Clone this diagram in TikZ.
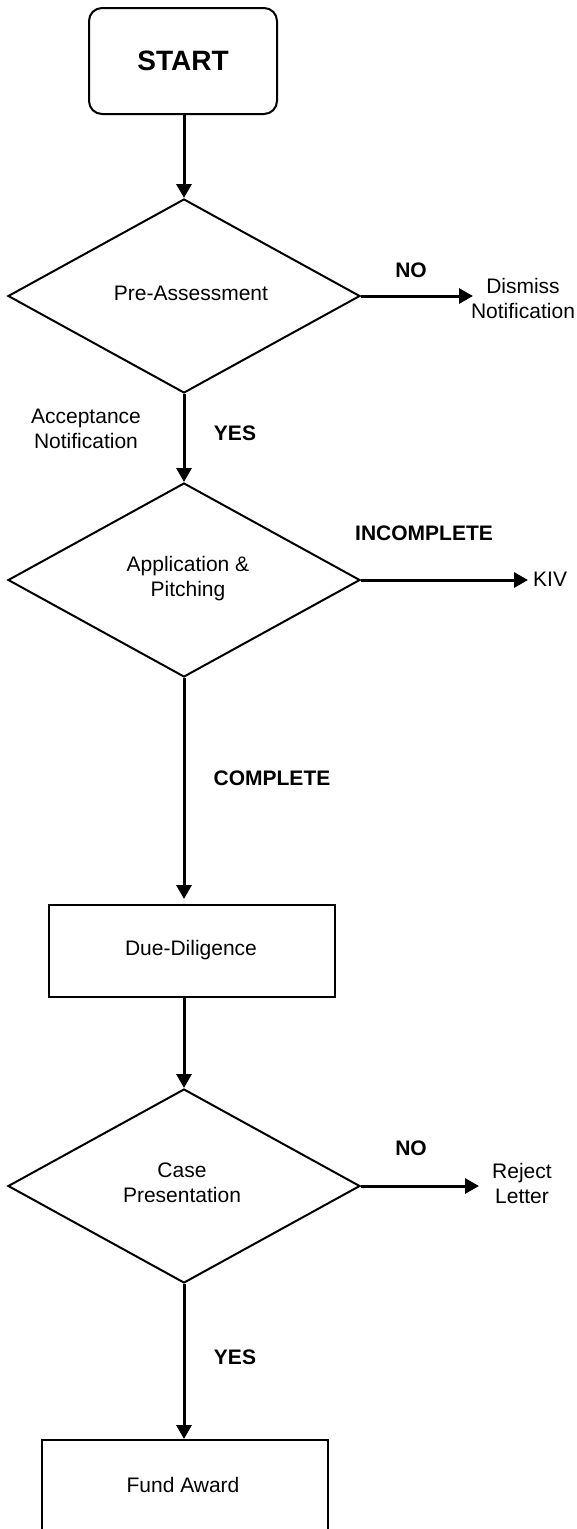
\documentclass[tikz,border=0pt]{standalone}
\usepackage{fontspec}
\setmainfont{Liberation Sans}
\usetikzlibrary{arrows.meta,shapes.geometric,calc}
\begin{document}
\begin{tikzpicture}[x=1pt,y=-1pt,
  shapeline/.style={draw=black,line width=2pt},
  flow/.style={line width=3pt,-{Triangle[width=15pt,length=14pt]}},
  txt/.style={font=\fontsize{21}{25}\selectfont,align=center,inner sep=0pt},
  boldtxt/.style={font=\fontsize{21}{25}\selectfont\bfseries,align=center,inner sep=0pt},
  proc/.style={shapeline,rectangle,minimum width=286pt,minimum height=92pt,inner sep=0pt},
  dec/.style={shapeline,diamond,minimum width=352pt,minimum height=194pt,inner sep=0pt}
]
\useasboundingbox (0,0) rectangle (577,1529);
\clip (0,0) rectangle (577,1529);
\fill[white] (0,0) rectangle (577,1529);

% shapes
\node[shapeline,rectangle,rounded corners=13pt,minimum width=188pt,minimum height=106pt,inner sep=0pt,
      font=\fontsize{28}{32}\selectfont\bfseries] (start) at (183,61) {START};
\node[dec] (d1) at (184,296) {};
\node[dec] (d2) at (184,580) {};
\node[proc] (dd) at (192,951) {};
\node[dec] (d3) at (184,1186) {};
\node[proc] (fa) at (185,1486) {};

% texts inside shapes
\node[txt] (t1) at (191,293) {Pre-Assessment};
\node[txt] (t2) at (188,579) {Application \&\\Pitching};
\node[txt] (t3) at (191,950) {Due-Diligence};
\node[txt] (t4) at (182,1183) {Case\\Presentation};
\node[txt] (t5) at (183,1485) {Fund Award};

% outcome texts
\node[txt] (dn) at (523,298) {Dismiss\\Notification};
\node[txt,anchor=west] (kiv) at (533,579) {KIV};
\node[txt] (rl) at (522,1183) {Reject\\Letter};
\node[txt] (an) at (86,429) {Acceptance\\Notification};

% labels
\node[boldtxt] (no1) at (411,270) {NO};
\node[boldtxt] (yes1) at (235,433) {YES};
\node[boldtxt] (inc) at (424,533) {INCOMPLETE};
\node[boldtxt] (comp) at (272,778) {COMPLETE};
\node[boldtxt] (no2) at (411,1148) {NO};
\node[boldtxt] (yes2) at (235,1357) {YES};

% free arrow ends
\coordinate (dne) at (473,296);
\coordinate (kive) at (528,580);
\coordinate (rle) at (479,1186);

% connectors
\draw[flow] (start.south -| d1.north) -- (d1.north);
\draw[flow] (d1.south) -- (d2.north);
\draw[flow,shorten >=5pt] (d2.south) -- (d2.south |- dd.north);
\draw[flow] (d3.north |- dd.south) -- (d3.north);
\draw[flow] (d3.south) -- (d3.south |- fa.north);
\draw[flow] (d1.east) -- (dne);
\draw[flow] (d2.east) -- (kive);
\draw[flow] (d3.east) -- (rle);
\end{tikzpicture}
\end{document}
